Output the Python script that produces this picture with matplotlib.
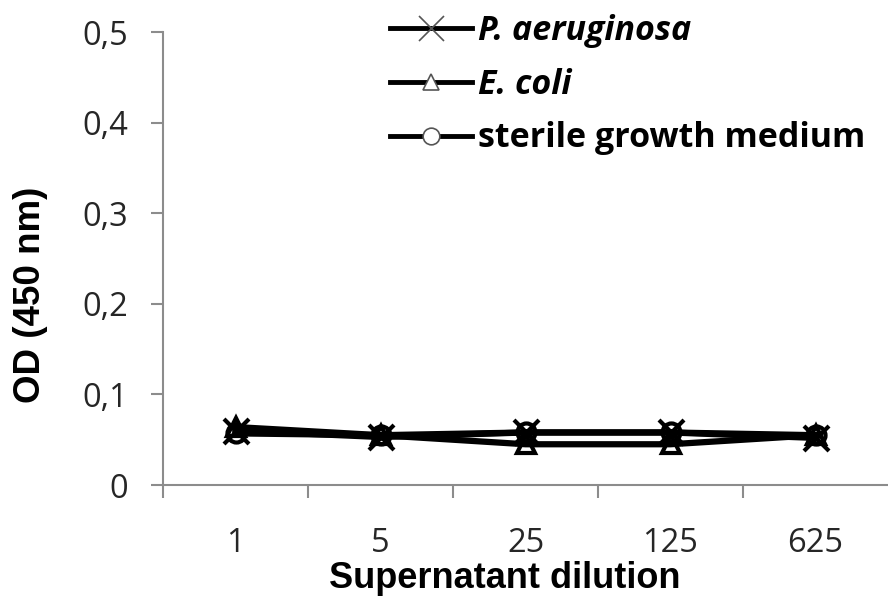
import matplotlib
matplotlib.use("Agg")
import matplotlib.pyplot as plt
from matplotlib.lines import Line2D

categories = ["1", "5", "25", "125", "625"]
p_aeruginosa = [0.060, 0.053, 0.058, 0.058, 0.052]
e_coli = [0.064, 0.055, 0.045, 0.045, 0.055]
sterile = [0.057, 0.055, 0.058, 0.058, 0.055]
yticks = [0, 0.1, 0.2, 0.3, 0.4, 0.5]
ytick_labels = ["0", "0,1", "0,2", "0,3", "0,4", "0,5"]

plt.rcParams['font.family'] = ['Open Sans', 'DejaVu Sans']

fig = plt.figure(figsize=(8.88, 5.96), dpi=100)
ax = fig.add_axes([0.1836, 0.1862, 0.8164, 0.7601])
x = list(range(len(categories)))

ax.plot(x, sterile, color='black', lw=4.5, marker='o', ms=13, mfc='none', mec='black', mew=3, clip_on=False)
ax.plot(x, e_coli, color='black', lw=4.5, marker='^', ms=13, mfc='none', mec='black', mew=3, clip_on=False)
ax.plot(x, p_aeruginosa, color='black', lw=4.5, marker='x', ms=18, mec='black', mew=3, clip_on=False)

ax.set_xlim(-0.5, 4.5)
ax.set_ylim(0, 0.5)
ax.set_yticks(yticks)
ax.set_yticklabels(ytick_labels)
ax.set_xticks(x)
ax.set_xticklabels(categories)
ax.set_xticks([i - 0.5 for i in range(len(categories))], minor=True)
ax.tick_params(axis='x', which='major', length=0, labelsize=23.5, pad=30, labelcolor='#262626')
ax.tick_params(axis='x', which='minor', length=9, width=1.5, color='#8c8c8c', direction='out')
ax.tick_params(axis='y', length=9, width=1.5, color='#8c8c8c', labelsize=23.5, pad=16, labelcolor='#262626')
for s in ['top', 'right']:
    ax.spines[s].set_visible(False)
for s in ['left', 'bottom']:
    ax.spines[s].set_color('#8c8c8c')
    ax.spines[s].set_linewidth(1.5)

ax.set_xlabel("Supernatant dilution", fontsize=26, fontweight='bold',
              family=['Liberation Sans', 'DejaVu Sans'])
ax.xaxis.set_label_coords((505 - 163) / 725, -0.168)
ax.set_ylabel("OD (450 nm)", fontsize=26.5, fontweight='bold',
              family=['Liberation Sans', 'DejaVu Sans'])
ax.yaxis.set_label_coords(-0.158, 0.42)

handles = [
    Line2D([], [], color='black', lw=3.5, marker='x', ms=18, mec='#555555', mew=1.2),
    Line2D([], [], color='black', lw=3.5, marker='^', ms=11, mfc='white', mec='#555555', mew=1.2),
    Line2D([], [], color='black', lw=3.5, marker='o', ms=12, mfc='white', mec='#555555', mew=1.2),
]
leg = fig.legend(handles, ["P. aeruginosa", "E. coli", "sterile growth medium"],
                 loc='upper left', bbox_to_anchor=(390 / 888, 1 - 14 / 596), frameon=False,
                 handlelength=2.4, handletextpad=0.2, labelspacing=0.58, borderpad=0,
                 borderaxespad=0, prop={'weight': 'bold', 'size': 24.5})
for i, t in enumerate(leg.get_texts()):
    if i < 2:
        t.set_style('italic')

fig.savefig("out.png", dpi=100)
